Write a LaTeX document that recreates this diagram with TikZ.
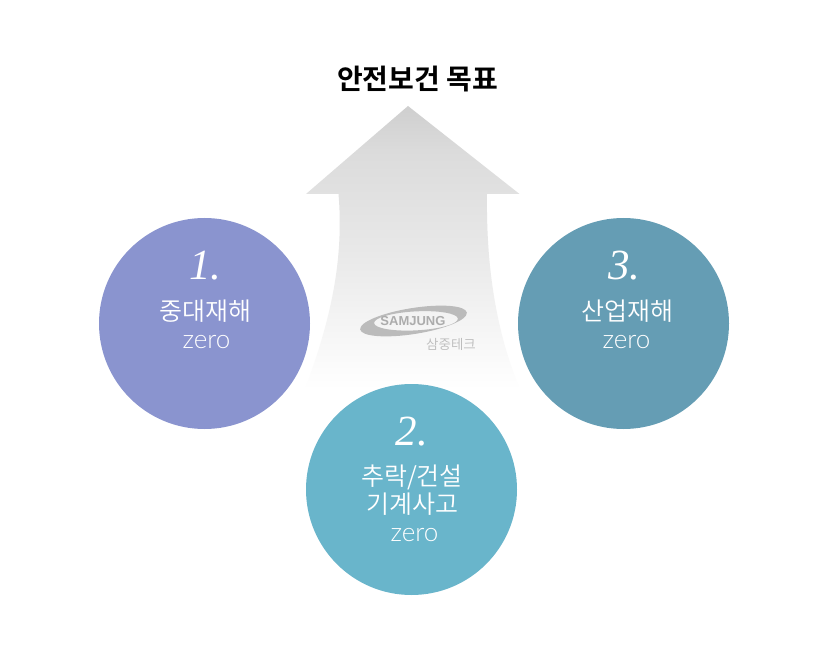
\documentclass[tikz,border=0pt]{standalone}
\usepackage{fontspec}
\setmainfont{Noto Sans CJK KR DemiLight}[BoldFont={Noto Sans CJK KR Bold}]
\newfontfamily\numfont{Liberation Serif}[ItalicFont={Liberation Serif Italic}]
\newfontfamily\latinfont{Lato Light}
\newfontfamily\logofont{Liberation Sans}[BoldFont={Liberation Sans Bold}]
\definecolor{cone}{HTML}{8A94CF}
\definecolor{ctwo}{HTML}{69B5CB}
\definecolor{cthree}{HTML}{659DB4}
\definecolor{logogray}{HTML}{BBBBBB}
\pgfdeclareverticalshading{arrowfade}{100bp}{color(0bp)=(white); color(25.5bp)=(white); color(50bp)=(black!9); color(67bp)=(black!14); color(75bp)=(black!19); color(100bp)=(black!19)}
\tikzset{
  disc/.style={circle,minimum size=211pt,inner sep=0pt,draw=none},
  numlabel/.style={text=white,font=\fontsize{43}{43}\numfont\itshape},
  krlabel/.style={text=white,font=\fontsize{25}{28}\selectfont,align=center,inner sep=0pt},
}
\newcommand{\zr}[1]{\hspace*{#1}{\latinfont\fontsize{26}{28}\selectfont zero}}
\begin{document}
\begin{tikzpicture}[x=1pt,y=-1pt]
\useasboundingbox (0,0) rectangle (828,650);
\fill[white] (0,0) rectangle (828,650);
% arrow
\shade[shading=arrowfade]
  (408,106) -- (519.5,194) -- (487,194)
  .. controls (486,270) and (497,335) .. (521,392)
  -- (304,392)
  .. controls (325,335) and (345,270) .. (338.5,194)
  -- (306,194) -- cycle;
% logo
\fill[logogray,even odd rule]
  [rotate around={9:(413.5,321)}] (413.5,321) ellipse [x radius=54,y radius=13]
  [rotate around={-6:(413.5,321)}] (416,321) ellipse [x radius=42,y radius=9.5];
\node[inner sep=0pt,text=logogray!92!black] (logotext) at (413,321)
  {\logofont\bfseries\fontsize{13}{13}\selectfont SAMJUNG};
\node[inner sep=0pt,text=logogray] (logokr) at (451,344)
  {\fontsize{13.5}{14}\selectfont 삼중테크};
% title
\node[inner sep=0pt,text=black] (title) at (417.5,79)
  {\bfseries\fontsize{28}{28}\selectfont 안전보건 목표};
% circles
\node[disc,fill=cone] (c1) at (204.5,323.5) {};
\node[disc,fill=cthree] (c3) at (623.5,323.5) {};
\node[disc,fill=ctwo] (c2) at (411.5,489.5) {};
% labels
\node[numlabel] (n1) at (205.5,265.5) {1.};
\node[krlabel] (t1) at (205.5,324) {중대재해\\\zr{2pt}};
\node[numlabel] (n3) at (624.5,265.5) {3.};
\node[krlabel] (t3) at (627,324) {산업재해\\\zr{-1pt}};
\node[numlabel] (n2) at (412,431.5) {2.};
\node[krlabel] (t2) at (412,503.5) {추락/건설\\기계사고\\\zr{5pt}};
\end{tikzpicture}
\end{document}
